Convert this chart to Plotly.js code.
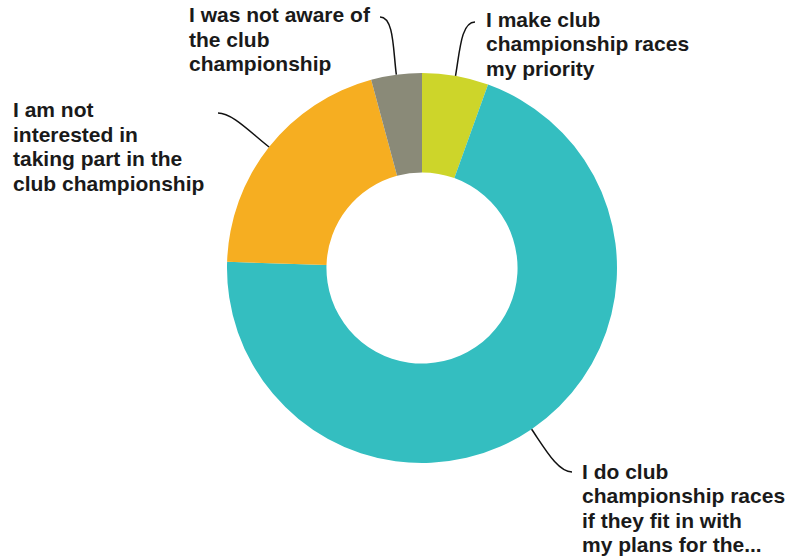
<!DOCTYPE html>
<html><head><meta charset="utf-8">
<script src="https://cdn.plot.ly/plotly-3.0.1.min.js"></script>
<style>html,body{margin:0;padding:0;background:#fff}</style>
</head><body><div id="chart" style="width:787px;height:558px"></div>
<script>
const labels = [
  "I make club championship races my priority",
  "I do club championship races if they fit in with my plans for the...",
  "I am not interested in taking part in the club championship",
  "I was not aware of the club championship"
];
const labelLines = [
  ["I make club", "championship races", "my priority"],
  ["I do club", "championship races", "if they fit in with", "my plans for the..."],
  ["I am not", "interested in", "taking part in the", "club championship"],
  ["I was not aware of", "the club", "championship"]
];
const values = [5.5, 70.0, 20.3, 4.2];
const colors = ["#cdd52a", "#34bec0", "#f6ae21", "#8a8a78"];

const W = 787, H = 558;
const cx = 422, cy = 268, R = 195;
const lineGap = 24.5;
// label anchors (left, first-line middle) and leader-line endpoints, in pixels
const labelPos = [[484, 19], [580, 471], [11, 110], [187, 15]];
const lineEnds = [[475, 22], [572, 472], [218, 113], [380, 17]];

const px = x => x / W, py = y => 1 - y / H;

const total = values.reduce((a, b) => a + b, 0);
let cum = 0;
const shapes = [], annotations = [];
values.forEach((v, i) => {
  const mid = (cum + v / 2) / total * 2 * Math.PI; // clockwise from 12 o'clock
  cum += v;
  const dx = Math.sin(mid), dy = -Math.cos(mid);
  const sx = cx + dx * R, sy = cy + dy * R;
  const [ex, ey] = lineEnds[i];
  const dir = ex > sx ? -1 : 1;
  const c1x = sx + dx * 25, c1y = sy + dy * 25;
  const c2x = ex + dir * 14, c2y = ey;
  shapes.push({
    type: "path", xref: "paper", yref: "paper",
    path: `M ${px(sx)} ${py(sy)} C ${px(c1x)} ${py(c1y)} ${px(c2x)} ${py(c2y)} ${px(ex)} ${py(ey)}`,
    line: {color: "#111", width: 1.5}
  });
  labelLines[i].forEach((t, k) => {
    annotations.push({
      xref: "paper", yref: "paper", x: px(labelPos[i][0]), y: py(labelPos[i][1] + k * lineGap),
      xanchor: "left", yanchor: "middle", align: "left", showarrow: false,
      text: t,
      font: {family: "Arial, Liberation Sans, sans-serif", size: 21, color: "#1a1a1a", weight: "bold"}
    });
  });
});

const data = [{
  type: "pie", labels: labels, values: values, hole: 0.49,
  sort: false, direction: "clockwise", rotation: 0,
  marker: {colors: colors, line: {width: 0}},
  textinfo: "none", hoverinfo: "label+percent",
  domain: {x: [px(cx - R), px(cx + R)], y: [py(cy + R), py(cy - R)]}
}];

Plotly.newPlot("chart", data, {
  width: W, height: H, margin: {l: 0, r: 0, t: 0, b: 0},
  showlegend: false, paper_bgcolor: "#fff",
  shapes: shapes, annotations: annotations
}, {displayModeBar: false, staticPlot: true});
</script></body></html>
